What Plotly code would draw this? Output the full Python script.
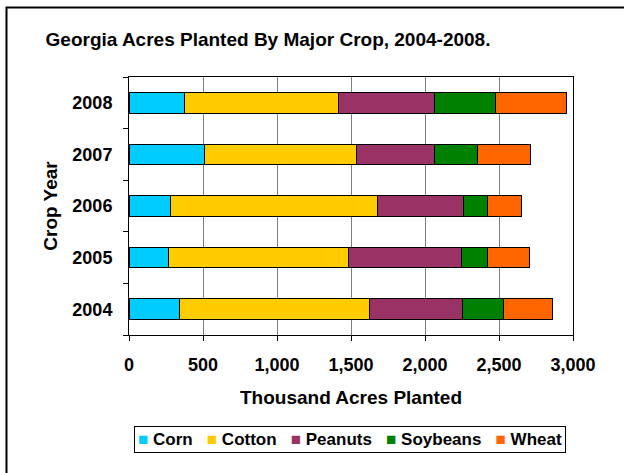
import plotly.graph_objects as go

years = ["2004", "2005", "2006", "2007", "2008"]
crops = ["Corn", "Cotton", "Peanuts", "Soybeans", "Wheat"]
corn = [340, 270, 280, 510, 375]
cotton = [1285, 1215, 1400, 1025, 1040]
peanuts = [625, 760, 580, 530, 650]
soybeans = [280, 180, 160, 290, 410]
wheat = [330, 280, 230, 355, 480]
colors = ["#00CCFF", "#FFCC00", "#993366", "#008000", "#FF6600"]
x_ticks = [0, 500, 1000, 1500, 2000, 2500, 3000]

series = [corn, cotton, peanuts, soybeans, wheat]
FONT = "Liberation Sans, Arial, sans-serif"

W, H = 624, 473
L, R, T, B = 129, 51, 77, 138
pw, ph = W - L - R, H - T - B

fig = go.Figure()
for name, vals, col in zip(crops, series, colors):
    fig.add_trace(go.Bar(
        y=years, x=vals, name=name, orientation="h",
        marker=dict(color=col, line=dict(color="#000000", width=1)),
        showlegend=False,
    ))

# legend as a single bordered annotation
parts = []
for name, col in zip(crops, colors):
    parts.append(f"<span style='color:{col}'>■</span>\u00a0{name}")
legend_text = "\u00a0\u00a0\u00a0".join(parts)

def px_x(p):
    return (p - L) / pw

def px_y(p):
    return (H - B - p) / ph

fig.update_layout(
    width=W, height=H,
    margin=dict(l=L, r=R, t=T, b=B),
    paper_bgcolor="white", plot_bgcolor="white",
    barmode="stack", bargap=0.6,
    title=dict(
        text="Georgia Acres Planted By Major Crop, 2004-2008.",
        x=268 / W, xanchor="center", y=1 - 39 / H, yanchor="middle",
        xref="container", yref="container",
        font=dict(family=FONT, size=19, color="black", weight="bold"),
    ),
    xaxis=dict(
        range=[0, 3000], tickvals=x_ticks, tickformat=",",
        ticks="outside", ticklen=5, tickcolor="black",
        showline=True, linecolor="black", linewidth=1, mirror=True,
        showgrid=True, gridcolor="#808080", gridwidth=1,
        zeroline=False, ticklabelstandoff=8,
        tickfont=dict(family=FONT, size=18, color="black", weight="bold"),
        title=dict(text="Thousand Acres Planted", standoff=17,
                   font=dict(family=FONT, size=19, color="black", weight="bold")),
    ),
    yaxis=dict(
        type="category", categoryorder="array", categoryarray=years,
        ticks="outside", ticklen=5, tickcolor="black", tickson="boundaries",
        showline=True, linecolor="black", linewidth=1, mirror=True,
        showgrid=False, zeroline=False, ticklabelstandoff=12,
        tickfont=dict(family=FONT, size=18, color="black", weight="bold"),
        title=dict(text="Crop Year", standoff=9,
                   font=dict(family=FONT, size=19, color="black", weight="bold")),
    ),
    annotations=[dict(
        text=legend_text, xref="paper", yref="paper",
        x=px_x(350), y=px_y(439), xanchor="center", yanchor="middle",
        showarrow=False, bordercolor="black", borderwidth=1, borderpad=3,
        bgcolor="white",
        font=dict(family=FONT, size=17, color="black", weight="bold"),
    )],
    shapes=[dict(
        type="rect", xref="paper", yref="paper",
        x0=px_x(6.5), x1=px_x(640), y0=px_y(490), y1=px_y(7.5),
        line=dict(color="black", width=2), fillcolor="rgba(0,0,0,0)",
        layer="below",
    )],
)

fig.write_html("out.html")
